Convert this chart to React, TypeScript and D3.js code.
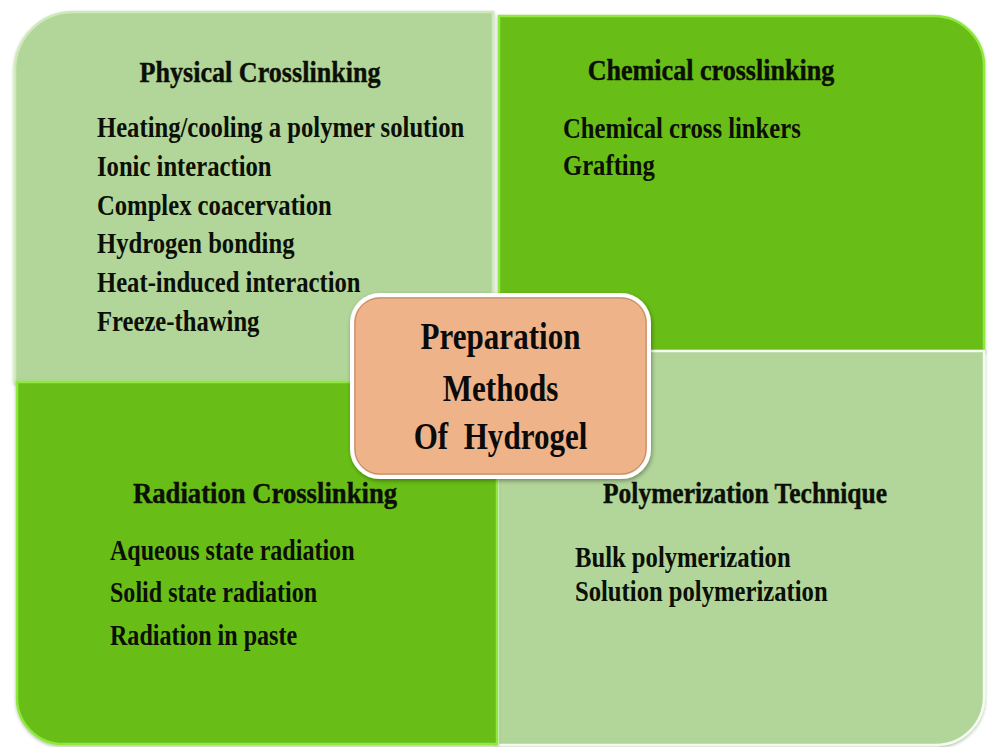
import React from "react";
import * as d3 from "d3";

// ---------- data ----------
const centerLines = ["Preparation", "Methods", "Of  Hydrogel"];
const quadrantTitles = [
  "Physical Crosslinking",
  "Chemical crosslinking",
  "Radiation Crosslinking",
  "Polymerization Technique",
];
const physicalItems = [
  "Heating/cooling a polymer solution",
  "Ionic interaction",
  "Complex coacervation",
  "Hydrogen bonding",
  "Heat-induced interaction",
  "Freeze-thawing",
];
const chemicalItems = ["Chemical cross linkers", "Grafting"];
const radiationItems = ["Aqueous state radiation", "Solid state radiation", "Radiation in paste"];
const polymerItems = ["Bulk polymerization", "Solution polymerization"];
const quadrantItems = [physicalItems, chemicalItems, radiationItems, polymerItems];

// ---------- layout (positions / styles) ----------
const W = 988;
const H = 747;
const LIGHT = "#b2d59a";
const DARK = "#68be17";
const PEACH = "#efb38a";

const quads = [
  { x0: 15, y0: 12, x1: 493, y1: 382, r: [58, 0, 0, 0], fill: LIGHT, edge: "#cfe9bb" },
  { x0: 499, y0: 16, x1: 984, y1: 351, r: [0, 50, 0, 0], fill: DARK, edge: "#8ee83c" },
  { x0: 498, y0: 351, x1: 984, y1: 745, r: [0, 0, 48, 0], fill: LIGHT, edge: "#f4fbef" },
  { x0: 17, y0: 382, x1: 497, y1: 744, r: [0, 0, 0, 46], fill: DARK, edge: "#8ee83c" },
];
const titlePos = [
  { cx: 260, y: 82, sx: 0.9 },
  { cx: 711, y: 80, sx: 0.9 },
  { cx: 265, y: 503, sx: 0.92 },
  { cx: 745, y: 503, sx: 0.88 },
];
const itemPos = [
  { x: 97, y: 137, step: 38.8, sx: 0.85 },
  { x: 563, y: 138, step: 37, sx: 0.85 },
  { x: 110, y: 560, step: 42.5, sx: 0.83 },
  { x: 575, y: 567, step: 34, sx: 0.85 },
];
const centerBox = { x0: 352, y0: 295, x1: 649, y1: 477, r: 28 };
const centerBaselines = [349, 401, 449];

function roundedPath(x0: number, y0: number, x1: number, y1: number, r: number[]) {
  const [tl, tr, br, bl] = r;
  const p = d3.path();
  p.moveTo(x0 + tl, y0);
  p.lineTo(x1 - tr, y0);
  if (tr) p.arcTo(x1, y0, x1, y0 + tr, tr);
  p.lineTo(x1, y1 - br);
  if (br) p.arcTo(x1, y1, x1 - br, y1, br);
  p.lineTo(x0 + bl, y1);
  if (bl) p.arcTo(x0, y1, x0, y1 - bl, bl);
  p.lineTo(x0, y0 + tl);
  if (tl) p.arcTo(x0, y0, x0 + tl, y0, tl);
  p.closePath();
  return p.toString();
}

const FONT = "'Liberation Serif', 'Times New Roman', serif";

export default function App() {
  return (
    <svg
      width={W}
      height={H}
      viewBox={`0 0 ${W} ${H}`}
      style={{ position: "absolute", left: 0, top: 0, background: "#ffffff" }}
    >
      <defs>
        <filter id="shadow" x="-10%" y="-10%" width="120%" height="120%">
          <feDropShadow dx="1" dy="2" stdDeviation="2" floodColor="#000" floodOpacity="0.35" />
        </filter>
        <filter id="qshadow" x="-5%" y="-5%" width="110%" height="110%">
          <feDropShadow dx="0" dy="1.5" stdDeviation="1.5" floodColor="#2b4a10" floodOpacity="0.35" />
        </filter>
      </defs>
      <rect x={0} y={0} width={W} height={H} fill="#ffffff" />
      {quads.map((q, i) => (
        <path
          key={i}
          d={roundedPath(q.x0, q.y0, q.x1, q.y1, q.r)}
          fill={q.fill}
          stroke={q.edge}
          strokeWidth={2.5}
          filter="url(#qshadow)"
        />
      ))}
      {quadrantTitles.map((t, i) => (
        <g key={t} transform={`translate(${titlePos[i].cx},${titlePos[i].y}) scale(${titlePos[i].sx},1)`}>
          <text
            x={0}
            y={0}
            textAnchor="middle"
            fontFamily={FONT}
            fontWeight="bold"
            fontSize={29}
            fill="#0b0f05"
            stroke="#0b0f05"
            strokeWidth={0.4}
          >
            {t}
          </text>
        </g>
      ))}
      {quadrantItems.map((items, qi) => {
        const pos = itemPos[qi];
        const y = d3
          .scaleLinear()
          .domain([0, 1])
          .range([pos.y, pos.y + pos.step]);
        return (
          <g key={qi} transform={`translate(${pos.x},0) scale(${pos.sx},1)`}>
            {items.map((it, i) => (
              <text
                key={it}
                x={0}
                y={y(i)}
                fontFamily={FONT}
                fontWeight="bold"
                fontSize={29}
                fill="#0b0f05"
              >
                {it}
              </text>
            ))}
          </g>
        );
      })}
      <path
        d={roundedPath(centerBox.x0, centerBox.y0, centerBox.x1, centerBox.y1, [
          centerBox.r,
          centerBox.r,
          centerBox.r,
          centerBox.r,
        ])}
        fill={PEACH}
        stroke="#ffffff"
        strokeWidth={4}
        filter="url(#shadow)"
      />
      <path
        d={roundedPath(centerBox.x0 + 3, centerBox.y0 + 3, centerBox.x1 - 3, centerBox.y1 - 3, [
          centerBox.r - 3,
          centerBox.r - 3,
          centerBox.r - 3,
          centerBox.r - 3,
        ])}
        fill="none"
        stroke="#b88a6a"
        strokeWidth={1}
      />
      <g transform={`translate(${(centerBox.x0 + centerBox.x1) / 2},0) scale(0.84,1)`}>
        {centerLines.map((t, i) => (
          <text
            key={t}
            x={0}
            y={centerBaselines[i]}
            textAnchor="middle"
            fontFamily={FONT}
            fontWeight="bold"
            fontSize={37}
            fill="#0b0b0b"
            style={{ whiteSpace: "pre" }}
          >
            {t}
          </text>
        ))}
      </g>
    </svg>
  );
}
